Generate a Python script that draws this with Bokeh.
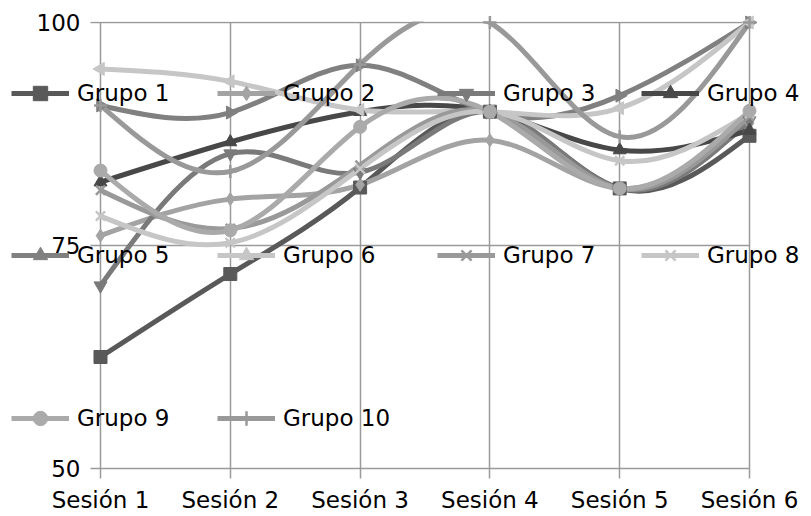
import numpy as np
from bokeh.plotting import figure
from bokeh.models import Range1d, FixedTicker, Legend, LegendItem, Grid
from bokeh.embed import file_html
from bokeh.resources import INLINE

sessions = ["Sesión 1", "Sesión 2", "Sesión 3", "Sesión 4", "Sesión 5", "Sesión 6"]
groups = ["Grupo 1", "Grupo 2", "Grupo 3", "Grupo 4", "Grupo 5",
          "Grupo 6", "Grupo 7", "Grupo 8", "Grupo 9", "Grupo 10"]

g1 = [62.5, 71.8, 81.5, 90.0, 81.4, 87.3]
g2 = [76.1, 80.2, 81.8, 86.8, 81.4, 88.7]
g3 = [70.5, 85.3, 83.2, 90.0, 81.4, 89.0]
g4 = [82.1, 86.6, 90.0, 90.0, 85.7, 87.9]
g5 = [90.7, 89.9, 95.2, 89.9, 91.8, 100.0]
g6 = [94.8, 93.4, 90.2, 90.0, 90.4, 100.0]
g7 = [81.2, 76.9, 84.0, 90.0, 81.4, 89.5]
g8 = [78.3, 75.3, 83.6, 90.0, 84.5, 89.8]
g9 = [83.4, 76.7, 88.3, 90.0, 81.4, 90.1]
g10 = [90.7, 83.3, 95.3, 100.0, 87.2, 100.0]
series = [g1, g2, g3, g4, g5, g6, g7, g8, g9, g10]

y_ticks = [50, 75, 100]

colors = ["#595959", "#a3a3a3", "#7a7a7a", "#484848", "#808080",
          "#c6c6c6", "#999999", "#c6c6c6", "#aaaaaa", "#999999"]
markers = ["square", "diamond", "inverted_triangle", "triangle", "triangle",
           "triangle", "x", "x", "circle", "cross"]
angles = [0, 0, 0, 0, -np.pi / 2, np.pi / 2, 0, 0, 0, 0]

FONT = "DejaVu Sans"
GRID = "#9a9a9a"
# the frame spans the whole canvas; the value scale 50..100 sits inside it
X_LO, X_HI = -0.7704, 5.4777
Y_LO, Y_HI = 44.619, 102.466
AXIS_X = -0.077                 # left end of the horizontal grid lines
N = len(sessions)

p = figure(width=811, height=516, output_backend="svg", toolbar_location=None,
           x_range=Range1d(X_LO, X_HI), y_range=Range1d(Y_LO, Y_HI),
           min_border_left=0, min_border_right=0, min_border_top=0,
           min_border_bottom=0)
p.outline_line_color = None
p.background_fill_color = "white"

# category axis, fixed on the 50 line
p.xaxis.ticker = FixedTicker(ticks=list(range(N)))
p.xaxis.fixed_location = y_ticks[0]
p.xaxis.major_label_overrides = {i: s for i, s in enumerate(sessions)}
p.xaxis.axis_line_color = None
p.xaxis.major_tick_line_color = GRID
p.xaxis.major_tick_line_width = 1.5
p.xaxis.major_tick_out = 10
p.xaxis.major_tick_in = 0
p.xaxis.minor_tick_line_color = None
p.xaxis.major_label_standoff = 8

# value axis, fixed at the left end of the grid
p.yaxis.ticker = FixedTicker(ticks=y_ticks)
p.yaxis.fixed_location = AXIS_X
p.yaxis.axis_line_color = None
p.yaxis.major_tick_line_color = None
p.yaxis.major_tick_out = 0
p.yaxis.major_tick_in = 0
p.yaxis.minor_tick_line_color = None
p.yaxis.major_label_standoff = 10

for ax in (p.xaxis, p.yaxis):
    ax.major_label_text_font = FONT
    ax.major_label_text_font_size = "23px"
    ax.major_label_text_color = "#000000"

p.xgrid.ticker = FixedTicker(ticks=list(range(N)))
p.ygrid.ticker = FixedTicker(ticks=y_ticks)
for g in (p.xgrid, p.ygrid):
    g.grid_line_color = GRID
    g.grid_line_width = 1.5
if "cross_bounds" in Grid.properties():
    p.xgrid.cross_bounds = (y_ticks[0], y_ticks[-1])
    p.ygrid.cross_bounds = (AXIS_X, N - 1)


def spline_controls(ys):
    """Natural cubic spline through the points, as cubic Bezier control points."""
    y = np.asarray(ys, dtype=float)
    n = len(y)
    A = np.zeros((n, n))
    b = np.zeros(n)
    A[0, 0] = 1
    A[-1, -1] = 1
    for i in range(1, n - 1):
        A[i, i - 1] = 1
        A[i, i] = 4
        A[i, i + 1] = 1
        b[i] = 6 * (y[i + 1] - 2 * y[i] + y[i - 1])
    M = np.linalg.solve(A, b)
    d = np.zeros(n)
    for i in range(n - 1):
        d[i] = (y[i + 1] - y[i]) - (2 * M[i] + M[i + 1]) / 6
    d[-1] = (y[-1] - y[-2]) + (M[-2] + 2 * M[-1]) / 6
    x = np.arange(n, dtype=float)
    return dict(x0=x[:-1], y0=y[:-1], x1=x[1:], y1=y[1:],
                cx0=x[:-1] + 1 / 3, cy0=y[:-1] + d[:-1] / 3,
                cx1=x[1:] - 1 / 3, cy1=y[1:] - d[1:] / 3)


xs = list(range(N))
for ys, col in zip(series, colors):
    p.bezier(line_color=col, line_width=5, **spline_controls(ys))

# the plot area ends at 100: hide the part of the smoothed lines above it
p.quad(left=[X_LO], right=[X_HI], bottom=[y_ticks[-1] + 0.12], top=[Y_HI],
       fill_color="white", line_color=None)

legend_refs = []
for name, ys, col, mk, ang in zip(groups, series, colors, markers, angles):
    sc = p.scatter(xs, ys, marker=mk, size=13, angle=ang, fill_color=col,
                   line_color=col, line_width=2.5 if mk in ("x", "cross") else 1)
    ln = p.line(xs, ys, line_color=col, line_width=5, visible=False)
    legend_refs.append((name, ln, sc))

# legend placement (4 columns, rows spread over the chart like the original)
col_x = [11, 217, 437, 641]
row_y = [405, 243, 80]
for i, (name, ln, sc) in enumerate(legend_refs):
    r, cidx = divmod(i, 4)
    leg = Legend(items=[LegendItem(label=name, renderers=[ln, sc])],
                 location=(col_x[cidx], row_y[r]),
                 glyph_width=58, glyph_height=36, label_standoff=8,
                 padding=0, margin=0, spacing=0,
                 border_line_color=None, background_fill_alpha=0,
                 label_text_font=FONT, label_text_font_size="23px",
                 label_text_color="#000000")
    p.add_layout(leg, "center")

open("out.html", "w").write(file_html(p, INLINE))
